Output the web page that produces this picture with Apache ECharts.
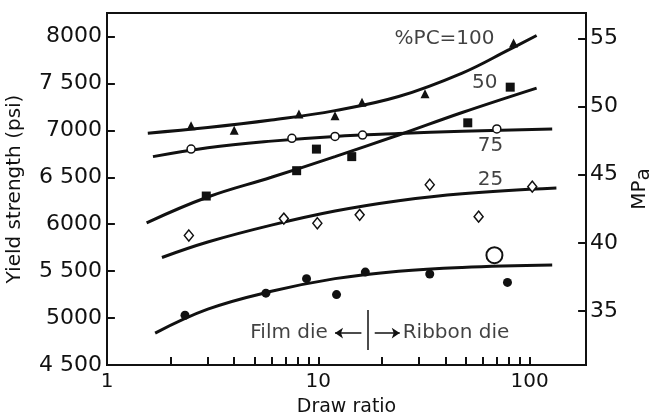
<!DOCTYPE html>
<html>
<head>
<meta charset="utf-8">
<script src="https://cdn.jsdelivr.net/npm/echarts@6/dist/echarts.min.js"></script>
<style>
  html, body { margin: 0; padding: 0; background: #fff; }
  #chart { width: 649px; height: 419px; }
</style>
</head>
<body>
<div id="chart"></div>
<script>
// Axis ticks and labels
const xLabelValues = [1, 10, 100];
const xTickValues = [2, 3, 4, 5, 6, 7, 8, 9, 10, 20, 30, 40, 50, 60, 70, 80, 90, 100];
const psiTicks = [4500, 5000, 5500, 6000, 6500, 7000, 7500, 8000];
const psiTickLabels = ['4 500', '5000', '5 500', '6000', '6 500', '7000', '7 500', '8000'];
const mpaTicks = [35, 40, 45, 50, 55];
const PSI_PER_MPA = 145.038;
const PSI_MIN = 4500;
const PSI_MAX = 8250;
const RATIO_MIN = 1;
const RATIO_MAX = 185;
// Tick lengths in data units (about 8 px on this plot)
const X_TICK_PSI = 85;
const Y_TICK_RATIO = 1.09;

// 100 % PC
const pc100Ratio = [2.5, 4.0, 8.1, 12, 16.1, 32, 84];
const pc100Psi = [7050, 7000, 7175, 7155, 7300, 7390, 7930];
const pc100CurveRatio = [1.56, 3.0, 6.0, 12, 24, 48, 80, 108];
const pc100CurvePsi = [6970, 7030, 7110, 7210, 7360, 7610, 7860, 8010];

// 75 % PC
const pc75Ratio = [2.5, 7.5, 12, 16.2, 70];
const pc75Psi = [6800, 6915, 6935, 6950, 7015];
const pc75CurveRatio = [1.65, 3.0, 6.0, 12, 24, 48, 128];
const pc75CurvePsi = [6720, 6815, 6885, 6935, 6965, 6990, 7015];

// 50 % PC
const pc50Ratio = [2.95, 7.9, 9.8, 14.4, 51, 81];
const pc50Psi = [6300, 6570, 6800, 6720, 7080, 7460];
const pc50CurveRatio = [1.54, 3.0, 6.0, 12, 24, 48, 108];
const pc50CurvePsi = [6015, 6290, 6500, 6720, 6950, 7190, 7450];

// 25 % PC
const pc25Ratio = [2.44, 6.87, 9.9, 15.7, 33.7, 57.4, 103];
const pc25Psi = [5880, 6060, 6010, 6100, 6420, 6080, 6400];
const pc25CurveRatio = [1.82, 3.0, 6.0, 12, 24, 48, 134];
const pc25CurvePsi = [5645, 5810, 5990, 6140, 6250, 6325, 6385];

// 0 % PC
const pc0Ratio = [2.34, 5.65, 8.8, 12.2, 16.7, 33.7, 78.6];
const pc0Psi = [5030, 5265, 5420, 5250, 5490, 5470, 5380];
const pc0CurveRatio = [1.69, 3.0, 6.0, 12, 24, 48, 128];
const pc0CurvePsi = [4840, 5095, 5285, 5420, 5500, 5540, 5565];

// Single large open circle
const extraRatio = [68.2];
const extraPsi = [5670];

// Curve labels
const curveLabels = ['%PC=100', '50', '75', '25'];
const curveLabelRatio = [39.6, 61.3, 65.3, 65.3];
const curveLabelPsi = [7980, 7503, 6834, 6473];

// Die boundary annotation
const dieBoundary = 17.1;
const dieTextPsi = 4840;

const INK = '#111';
const FONT = 'DejaVu Sans';

const pairs = (xs, ys) => xs.map((x, i) => [x, ys[i]]);

function curve(name, xs, ys) {
  return {
    name: name, type: 'line', data: pairs(xs, ys), smooth: 0.4,
    showSymbol: false, silent: true, z: 2,
    lineStyle: { color: INK, width: 3 }
  };
}

function points(name, xs, ys, symbol, size, filled, borderWidth) {
  return {
    name: name, type: 'scatter', data: pairs(xs, ys), symbol: symbol,
    symbolSize: size, silent: true, z: 5,
    itemStyle: filled
      ? { color: INK, opacity: 1 }
      : { color: '#fff', borderColor: INK, borderWidth: borderWidth || 1.5, opacity: 1 }
  };
}

// Tick segments along the frame, all pointing into the plot
const tickSegments = []
  .concat(xTickValues.map(v => [{ coord: [v, PSI_MIN] }, { coord: [v, PSI_MIN + X_TICK_PSI] }]))
  .concat(psiTicks.slice(1).map(v => [{ coord: [RATIO_MIN, v] }, { coord: [RATIO_MIN * Y_TICK_RATIO, v] }]))
  .concat(mpaTicks.map(v => [{ coord: [RATIO_MAX, v * PSI_PER_MPA] },
                             { coord: [RATIO_MAX / Y_TICK_RATIO, v * PSI_PER_MPA] }]));

const chart = echarts.init(document.getElementById('chart'), null, { renderer: 'canvas' });

chart.setOption({
  animation: false,
  backgroundColor: '#fff',
  textStyle: { fontFamily: FONT, color: INK },
  grid: {
    left: 107, right: 63, top: 13, bottom: 54,
    outerBoundsMode: 'none', containLabel: false,
    show: true, borderColor: INK, borderWidth: 2
  },
  xAxis: {
    type: 'log', logBase: 10, min: RATIO_MIN, max: RATIO_MAX,
    name: 'Draw ratio', nameLocation: 'middle', nameGap: 33,
    nameTextStyle: { fontSize: 19, color: INK, fontFamily: FONT },
    axisLine: { show: true, lineStyle: { color: INK, width: 2 } },
    axisTick: { show: false },
    minorTick: { show: false },
    axisLabel: { customValues: xLabelValues, fontSize: 20, color: INK, margin: 7,
                 fontFamily: FONT, formatter: v => String(Math.round(v)) },
    splitLine: { show: false }
  },
  yAxis: [
    {
      type: 'value', min: PSI_MIN, max: PSI_MAX, position: 'left',
      name: 'Yield strength (psi)', nameLocation: 'middle', nameGap: 82,
      nameTextStyle: { fontSize: 20, color: INK, fontFamily: FONT },
      axisLine: { show: true, lineStyle: { color: INK, width: 2 } },
      axisTick: { show: false },
      axisLabel: { customValues: psiTicks, fontSize: 22, color: INK, margin: 5,
                   fontFamily: FONT,
                   formatter: v => psiTickLabels[psiTicks.indexOf(Math.round(v))] || '' },
      splitLine: { show: false }
    },
    {
      type: 'value', min: PSI_MIN / PSI_PER_MPA, max: PSI_MAX / PSI_PER_MPA, position: 'right',
      name: 'MP{s|a}', nameLocation: 'middle', nameGap: 40, nameRotate: 90,
      nameTextStyle: { fontSize: 20, color: INK, fontFamily: FONT,
                       rich: { s: { fontSize: 20, color: INK, fontFamily: FONT, padding: [8, 0, 0, 0] } } },
      axisLine: { show: true, lineStyle: { color: INK, width: 2 } },
      axisTick: { show: false },
      axisLabel: { customValues: mpaTicks, fontSize: 22, color: INK, margin: 4,
                   fontFamily: FONT, formatter: v => String(Math.round(v)) },
      splitLine: { show: false }
    }
  ],
  series: [
    curve('PC 100 curve', pc100CurveRatio, pc100CurvePsi),
    curve('PC 75 curve', pc75CurveRatio, pc75CurvePsi),
    curve('PC 50 curve', pc50CurveRatio, pc50CurvePsi),
    curve('PC 25 curve', pc25CurveRatio, pc25CurvePsi),
    curve('PC 0 curve', pc0CurveRatio, pc0CurvePsi),
    points('PC 100', pc100Ratio, pc100Psi, 'triangle', [9, 9], true),
    points('PC 75', pc75Ratio, pc75Psi, 'circle', 8, false, 1.5),
    points('PC 50', pc50Ratio, pc50Psi, 'rect', 9, true),
    points('PC 25', pc25Ratio, pc25Psi, 'diamond', [9, 11], false, 1.5),
    points('PC 0', pc0Ratio, pc0Psi, 'circle', 9, true),
    points('Large circle', extraRatio, extraPsi, 'circle', 16, false, 2),
    {
      name: 'Curve labels', type: 'scatter', silent: true, z: 6,
      symbolSize: 0,
      data: curveLabels.map((t, i) => ({ name: t, value: [curveLabelRatio[i], curveLabelPsi[i]] })),
      label: { show: true, position: 'inside', formatter: '{b}', fontSize: 20,
               color: INK, fontFamily: FONT },
      markLine: {
        silent: true, animation: false, symbol: 'none',
        label: { show: false },
        emphasis: { disabled: true },
        lineStyle: { color: INK, width: 2, type: 'solid' },
        data: tickSegments
      }
    },
    {
      name: 'Die annotation', type: 'scatter', silent: true, z: 6,
      symbolSize: 0,
      data: [
        { name: 'Film die', value: [11.1, dieTextPsi],
          label: { position: 'left', distance: 0 } },
        { name: 'Ribbon die', value: [25.1, dieTextPsi],
          label: { position: 'right', distance: 0 } }
      ],
      label: { show: true, formatter: '{b}', fontSize: 20, color: INK, fontFamily: FONT },
      markLine: {
        silent: true, animation: false,
        label: { show: false },
        lineStyle: { color: INK, width: 1.5, type: 'solid' },
        data: [
          [{ coord: [dieBoundary, 5085], symbol: 'none' }, { coord: [dieBoundary, 4660], symbol: 'none' }],
          [{ coord: [16.0, dieTextPsi], symbol: 'none' }, { coord: [12.0, dieTextPsi], symbol: 'arrow', symbolSize: 8 }],
          [{ coord: [18.5, dieTextPsi], symbol: 'none' }, { coord: [24.3, dieTextPsi], symbol: 'arrow', symbolSize: 8 }]
        ]
      }
    }
  ]
});
</script>
</body>
</html>
